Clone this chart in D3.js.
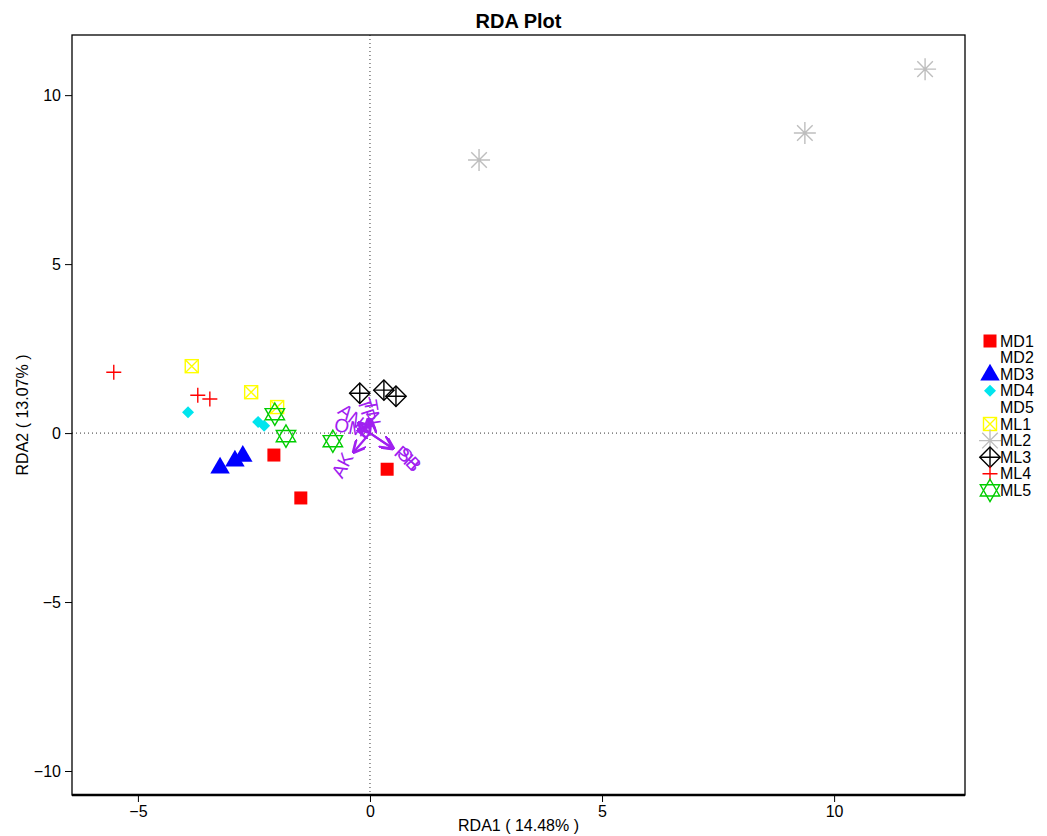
<!DOCTYPE html>
<html>
<head>
<meta charset="utf-8">
<script src="https://cdn.jsdelivr.net/npm/d3@7"></script>
<style>
  body { margin: 0; background: #fff; }
  text { font-family: "Liberation Sans", Arial, sans-serif; }
</style>
</head>
<body>
<svg id="plot" width="1047" height="836"></svg>
<script>
// groups shown in the legend (MD2 and MD5 have no points)
const groups = ["MD1", "MD2", "MD3", "MD4", "MD5", "ML1", "ML2", "ML3", "ML4", "ML5"];
const groupShape = ["sq", null, "tri", "dia", null, "sqx", "ast", "diap", "plus", "star"];
const groupColor = ["#ff0000", "#ffffff", "#0000ff", "#00e5ee", "#ffffff", "#ffff00", "#bebebe", "#000000", "#ff0000", "#00cd00"];

// site scores: [group, RDA1, RDA2]
const sites = [
    ["MD1", -2.07, -0.65], ["MD1", -1.49, -1.92], ["MD1", 0.37, -1.07],
    ["MD3", -3.23, -1.01], ["MD3", -2.91, -0.80], ["MD3", -2.74, -0.66],
    ["MD4", -3.92, 0.62], ["MD4", -2.41, 0.33], ["MD4", -2.28, 0.22],
    ["ML1", -3.84, 1.98], ["ML1", -2.56, 1.21], ["ML1", -2.00, 0.77],
    ["ML2", 2.35, 8.08], ["ML2", 9.37, 8.88], ["ML2", 11.96, 10.77],
    ["ML3", -0.22, 1.18], ["ML3", 0.30, 1.27], ["ML3", 0.56, 1.09],
    ["ML4", -5.52, 1.80], ["ML4", -3.71, 1.12], ["ML4", -3.45, 1.01],
    ["ML5", -2.05, 0.56], ["ML5", -1.81, -0.09], ["ML5", -0.80, -0.24]
];

// environmental arrows: [name, RDA1, RDA2, label angle]
const envVars = [
    ["AK", -0.35, -0.56, -62],
    ["SB", 0.50, -0.46, 48],
    ["PH", 0.47, -0.44, 42],
    ["AN", -0.24, 0.30, 38],
    ["OM", -0.26, 0.10, 12],
    ["TP", -0.04, 0.40, 72],
    ["TN", 0.03, 0.36, 80]
];

const xTicks = [-5, 0, 5, 10];
const yTicks = [-10, -5, 0, 5, 10];

const svg = d3.select("#plot");
const mLeft = 72, mRight = 965, mTop = 35, mBottom = 795;

const x = d3.scaleLinear().domain([-6.42, 12.82]).range([mLeft, mRight]);
const y = d3.scaleLinear().domain([-10.71, 11.78]).range([mBottom, mTop]);

// title
svg.append("text")
    .attr("x", (mLeft + mRight) / 2).attr("y", 28)
    .attr("text-anchor", "middle")
    .attr("font-size", 20).attr("font-weight", "bold")
    .text("RDA Plot");

// zero lines
svg.append("line")
    .attr("x1", x(0)).attr("x2", x(0)).attr("y1", mTop).attr("y2", mBottom)
    .attr("stroke", "#333").attr("stroke-dasharray", "1,3");
svg.append("line")
    .attr("x1", mLeft).attr("x2", mRight).attr("y1", y(0)).attr("y2", y(0))
    .attr("stroke", "#333").attr("stroke-dasharray", "1,3");

// axes
const xAxis = svg.append("g")
    .attr("transform", `translate(0,${mBottom})`)
    .call(d3.axisBottom(x).tickValues(xTicks).tickSize(7).tickPadding(4));
const yAxis = svg.append("g")
    .attr("transform", `translate(${mLeft},0)`)
    .call(d3.axisLeft(y).tickValues(yTicks).tickSize(7).tickPadding(4));
[xAxis, yAxis].forEach(g => {
    g.select(".domain").remove();
    g.selectAll("text").attr("font-size", 16).attr("fill", "#000")
        .style("font-family", "'Liberation Sans', Arial, sans-serif");
    g.selectAll("line").attr("stroke", "#000");
});

// frame
svg.append("rect")
    .attr("x", mLeft).attr("y", mTop).attr("width", mRight - mLeft).attr("height", mBottom - mTop)
    .attr("fill", "none").attr("stroke", "#000").attr("stroke-width", 1.3);
svg.append("line")
    .attr("x1", mLeft).attr("x2", mRight).attr("y1", mBottom).attr("y2", mBottom)
    .attr("stroke", "#000").attr("stroke-width", 2.5);

// axis titles
svg.append("text")
    .attr("x", (mLeft + mRight) / 2).attr("y", 831)
    .attr("text-anchor", "middle").attr("font-size", 16)
    .text("RDA1 ( 14.48% )");
svg.append("text")
    .attr("transform", `translate(28,${(mTop + mBottom) / 2}) rotate(-90)`)
    .attr("text-anchor", "middle").attr("font-size", 16)
    .text("RDA2 ( 13.07% )");

// symbol drawing (R pch-like)
function drawSymbol(g, shape, color, s) {
    if (shape === "sq") {
        g.append("rect").attr("x", -s * 0.5).attr("y", -s * 0.5).attr("width", s).attr("height", s)
            .attr("fill", color);
    } else if (shape === "tri") {
        const h = s * 1.05;
        g.append("path").attr("d", `M0,${-h * 0.62}L${h * 0.58},${h * 0.38}L${-h * 0.58},${h * 0.38}Z`)
            .attr("fill", color);
    } else if (shape === "dia") {
        const r = s * 0.5;
        g.append("path").attr("d", `M0,${-r}L${r},0L0,${r}L${-r},0Z`).attr("fill", color);
    } else if (shape === "sqx") {
        const r = s * 0.5;
        g.append("rect").attr("x", -r).attr("y", -r).attr("width", 2 * r).attr("height", 2 * r)
            .attr("fill", "none").attr("stroke", color).attr("stroke-width", 1.4);
        g.append("path").attr("d", `M${-r},${-r}L${r},${r}M${r},${-r}L${-r},${r}`)
            .attr("stroke", color).attr("stroke-width", 1.4);
    } else if (shape === "ast") {
        const r = s * 0.55;
        const d = r * Math.SQRT1_2;
        g.append("path").attr("d", `M${-r},0L${r},0M0,${-r}L0,${r}M${-d},${-d}L${d},${d}M${d},${-d}L${-d},${d}`)
            .attr("stroke", color).attr("stroke-width", 1.4);
    } else if (shape === "diap") {
        const r = s * 0.6;
        g.append("path").attr("d", `M0,${-r}L${r},0L0,${r}L${-r},0Z`)
            .attr("fill", "none").attr("stroke", color).attr("stroke-width", 1.4);
        g.append("path").attr("d", `M0,${-r}L0,${r}M${-r},0L${r},0`)
            .attr("stroke", color).attr("stroke-width", 1.4);
    } else if (shape === "plus") {
        const r = s * 0.5;
        g.append("path").attr("d", `M0,${-r}L0,${r}M${-r},0L${r},0`)
            .attr("stroke", color).attr("stroke-width", 1.4);
    } else if (shape === "star") {
        const r = s * 0.62;
        const w = r * 0.87;
        g.append("path").attr("d", `M0,${-r}L${w},${r * 0.5}L${-w},${r * 0.5}Z`)
            .attr("fill", "none").attr("stroke", color).attr("stroke-width", 1.4);
        g.append("path").attr("d", `M0,${r}L${w},${-r * 0.5}L${-w},${-r * 0.5}Z`)
            .attr("fill", "none").attr("stroke", color).attr("stroke-width", 1.4);
    }
}

const symSize = { sq: 13, tri: 16, dia: 12, sqx: 13, ast: 20, diap: 17, plus: 15, star: 18 };

// points
sites.forEach(d => {
    const i = groups.indexOf(d[0]);
    const g = svg.append("g").attr("transform", `translate(${x(d[1])},${y(d[2])})`);
    drawSymbol(g, groupShape[i], groupColor[i], symSize[groupShape[i]]);
});

// env arrows
const purple = "#a020f0";
svg.append("defs").append("marker")
    .attr("id", "ah").attr("viewBox", "0 0 10 10").attr("refX", 9).attr("refY", 5)
    .attr("markerWidth", 6).attr("markerHeight", 6).attr("orient", "auto")
    .append("path").attr("d", "M0,0L10,5L0,10").attr("fill", "none")
    .attr("stroke", purple).attr("stroke-width", 2);

envVars.forEach(d => {
    svg.append("line")
        .attr("x1", x(0)).attr("y1", y(0)).attr("x2", x(d[1])).attr("y2", y(d[2]))
        .attr("stroke", purple).attr("stroke-width", 2.2).attr("marker-end", "url(#ah)");
    const lx = x(d[1] * 1.7), ly = y(d[2] * 1.7);
    svg.append("text")
        .attr("transform", `translate(${lx},${ly}) rotate(${d[3]})`)
        .attr("text-anchor", "middle").attr("dominant-baseline", "central")
        .attr("font-size", 19).attr("fill", purple)
        .text(d[0]);
});

// legend
const lg = svg.append("g");
groups.forEach((name, i) => {
    const yy = 341 + i * 16.6;
    if (groupShape[i]) {
        const g = lg.append("g").attr("transform", `translate(990,${yy})`);
        drawSymbol(g, groupShape[i], groupColor[i], symSize[groupShape[i]]);
    }
    lg.append("text").attr("x", 1000).attr("y", yy).attr("dominant-baseline", "central")
        .attr("font-size", 16).text(name);
});
</script>
</body>
</html>
